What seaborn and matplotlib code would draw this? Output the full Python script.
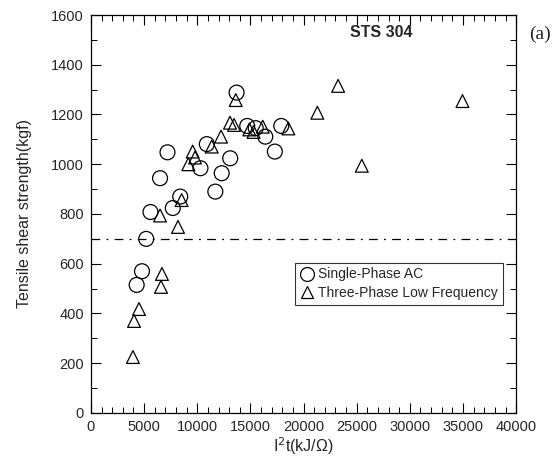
import matplotlib
matplotlib.use("Agg")
import matplotlib.pyplot as plt
from matplotlib.lines import Line2D
from matplotlib.ticker import MultipleLocator
import seaborn as sns
import pandas as pd

# Single-Phase AC
single_x = [4300, 4800, 5200, 5600, 6500, 7200, 7700, 8400, 10300, 10900,
            11700, 12300, 13100, 13700, 14700, 15500, 16400, 17300, 17900]
single_y = [515, 570, 700, 808, 944, 1048, 824, 870, 984, 1081,
            890, 964, 1024, 1288, 1154, 1145, 1111, 1051, 1154]

# Three-Phase Low Frequency
three_x = [3950, 4050, 4520, 6590, 6680, 6500, 8190, 8530, 9160, 9570, 9790,
           11360, 12240, 13080, 13460, 13620, 14900, 15300, 16160, 18570,
           21300, 23250, 25480, 34950]
three_y = [225, 370, 418, 507, 559, 794, 748, 856, 1000, 1051, 1027,
           1071, 1111, 1167, 1158, 1258, 1140, 1130, 1151, 1144,
           1207, 1315, 994, 1254]

series_names = ["Single-Phase AC", "Three-Phase Low Frequency"]
x_ticks = [0, 5000, 10000, 15000, 20000, 25000, 30000, 35000, 40000]
y_ticks = [0, 200, 400, 600, 800, 1000, 1200, 1400, 1600]
ref_level = 700

df = pd.concat([
    pd.DataFrame({"x": single_x, "y": single_y, "series": series_names[0]}),
    pd.DataFrame({"x": three_x, "y": three_y, "series": series_names[1]}),
])

sns.set_style("ticks")
plt.rcParams["font.family"] = ["Liberation Sans", "DejaVu Sans"]

fig = plt.figure(figsize=(5.58, 4.63), dpi=100)
ax = fig.add_axes([0.163, 0.108, 0.762, 0.8596])

markers = {"Single-Phase AC": "o", "Three-Phase Low Frequency": "^"}
sizes = {"Single-Phase AC": 115, "Three-Phase Low Frequency": 85}
for name in series_names:
    sub = df[df["series"] == name]
    sns.scatterplot(data=sub, x="x", y="y", marker=markers[name], s=sizes[name],
                    facecolors="none", edgecolor="black", linewidth=0.9,
                    ax=ax, legend=False, zorder=3)

ax.axhline(ref_level, color="black", linestyle=(0, (7, 5, 1.5, 5)), linewidth=0.9)

ax.set_xlim(0, 40000)
ax.set_ylim(0, 1600)
ax.set_xticks(x_ticks)
ax.set_yticks(y_ticks)
ax.xaxis.set_minor_locator(MultipleLocator(1000))
ax.yaxis.set_minor_locator(MultipleLocator(100))
ax.tick_params(which="both", direction="in", top=True, right=True, color="black")
ax.tick_params(which="major", length=7, width=0.8, labelsize=10.5, pad=5)
ax.tick_params(which="minor", length=4, width=0.7)
for sp in ax.spines.values():
    sp.set_linewidth(0.9)
    sp.set_color("black")

ax.set_xlabel("I$^2$t(kJ/\u03a9)", fontsize=11.5, labelpad=1)
ax.set_ylabel("Tensile shear strength(kgf)", fontsize=11.5, labelpad=14)

ax.text(27300, 1530, "STS 304", fontsize=11.5, fontweight="bold", ha="center", va="center")
fig.text(0.968, 0.925, "(a)", fontsize=14, family=["Liberation Serif", "DejaVu Serif"],
         ha="center", va="center")

handles = [
    Line2D([], [], marker="o", linestyle="none", markerfacecolor="none",
           markeredgecolor="black", markersize=10, markeredgewidth=0.9),
    Line2D([], [], marker="^", linestyle="none", markerfacecolor="none",
           markeredgecolor="black", markersize=9, markeredgewidth=0.9),
]
leg = ax.legend(handles, series_names, loc="lower right",
                bbox_to_anchor=(0.969, 0.271), frameon=True, fancybox=False,
                fontsize=10, handletextpad=0.3, handlelength=1.0,
                borderpad=0.35, labelspacing=0.35, borderaxespad=0)
leg.get_frame().set_edgecolor("black")
leg.get_frame().set_linewidth(0.8)

fig.savefig("out.png", dpi=100)
